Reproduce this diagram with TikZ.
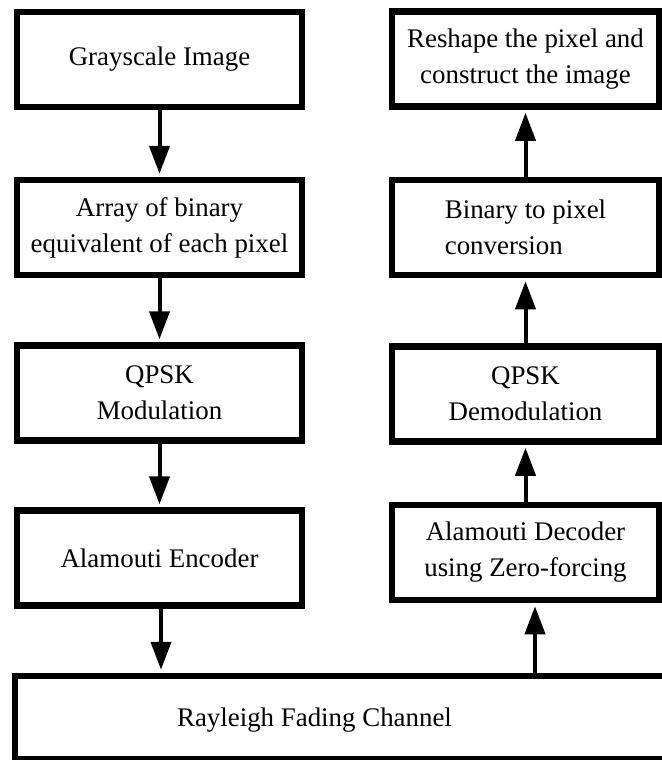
\documentclass[tikz,border=0pt]{standalone}
\usepackage{fontspec}
\setmainfont{Liberation Serif}
\usetikzlibrary{arrows.meta}

\begin{document}
\begin{tikzpicture}[
	box/.style={
		draw, line width=0.13cm,
		minimum width=5.7cm, minimum height=1.9cm,
		align=center, font=\fontsize{15.3}{20.5}\selectfont
	},
	rbox/.style={box, minimum width=5.34cm},
	arr/.style={-{Triangle[width=0.4cm, length=0.56cm]}, line width=0.08cm, shorten >=0.06cm},
	lbl/.style={font=\fontsize{15.3}{20.5}\selectfont}
]
\useasboundingbox (0,0) rectangle (13.24,-15.2);

\node[box]  (gray)    at (3.19, -1.19)  {Grayscale Image};
\node[box]  (binary)  at (3.19, -4.55)  {Array of binary\\equivalent of each pixel};
\node[box]  (qpsk)    at (3.19, -7.86)  {QPSK\\Modulation};
\node[box]  (encoder) at (3.19, -11.16) {Alamouti Encoder};

\node[rbox] (reshape) at (10.51, -1.18)  {Reshape the pixel and\\construct the image};
\node[rbox, align=left] (topixel) at (10.51, -4.55) {Binary to pixel\\conversion};
\node[rbox] (demod)   at (10.51, -7.88)  {QPSK\\Demodulation};
\node[rbox] (decoder) at (10.51, -11.05) {Alamouti Decoder\\using Zero-forcing};

\node[box, minimum width=13.7cm, minimum height=1.66cm] (chan) at (7.15, -14.35) {};
\node[lbl] (chantext) at (6.29, -14.4) {Rayleigh Fading Channel};

\draw[arr] (gray.south)    -- (binary.north);
\draw[arr] (binary.south)  -- (qpsk.north);
\draw[arr] (qpsk.south)    -- (encoder.north);
\draw[arr] ([xshift=0.03cm]encoder.south) -- ([xshift=0.03cm]encoder.south |- chan.north);

\draw[arr] ([xshift=0.19cm]decoder.south |- chan.north) -- ([xshift=0.19cm]decoder.south);
\draw[arr] (decoder.north) -- (demod.south);
\draw[arr] (demod.north)   -- (topixel.south);
\draw[arr] (topixel.north) -- (reshape.south);

\end{tikzpicture}
\end{document}
